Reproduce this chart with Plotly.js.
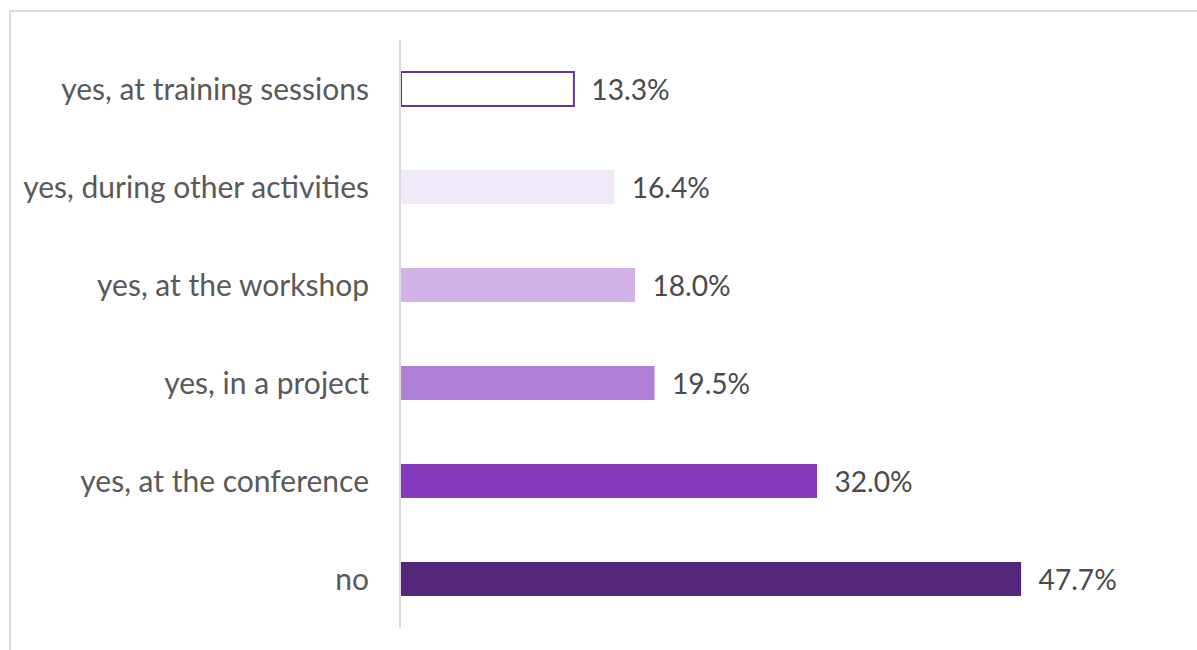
<!DOCTYPE html>
<html>
<head>
<meta charset="utf-8">
<script src="https://cdn.plot.ly/plotly-3.0.1.min.js"></script>
<style>
html,body{margin:0;padding:0;background:#fff;overflow:hidden;}
#chart{position:absolute;left:0;top:0;width:1197px;height:650px;}
#frame{position:absolute;left:9px;top:10px;width:1200px;height:660px;border:2px solid #d9d9d9;box-sizing:border-box;pointer-events:none;}
</style>
</head>
<body>
<div id="chart"></div>
<div id="frame"></div>
<script>
const categories = ["no", "yes, at the conference", "yes, in a project", "yes, at the workshop", "yes, during other activities", "yes, at training sessions"];
const values = [47.7, 32.0, 19.5, 18.0, 16.4, 13.3];
const fillColors = ["#56267a", "#8739bd", "#b07fd8", "#d3b2e9", "#f1e9f8", "#ffffff"];
const lineColors = ["#56267a", "#8739bd", "#b07fd8", "#d3b2e9", "#f1e9f8", "#6a3496"];
const lineWidths = [0, 0, 0, 0, 0, 2];

const trace = {
  type: "bar",
  orientation: "h",
  y: categories,
  x: values,
  width: 0.345,
  marker: {color: fillColors, line: {color: lineColors, width: lineWidths}},
  texttemplate: "  %{x:.1f}%",
  textposition: "outside",
  cliponaxis: false,
  textfont: {family: "Lato, 'Open Sans', sans-serif", size: 30, color: "#4a4a4a"},
  hoverinfo: "none"
};

const layout = {
  width: 1197, height: 650,
  margin: {l: 401, r: 16, t: 40, b: 22},
  paper_bgcolor: "rgba(0,0,0,0)",
  plot_bgcolor: "rgba(0,0,0,0)",
  showlegend: false,
  bargap: 0.655,
  xaxis: {range: [0, 60], showticklabels: false, showgrid: false, zeroline: false, showline: false, fixedrange: true},
  yaxis: {
    type: "category",
    showline: true, linecolor: "#d9d9d9", linewidth: 2,
    showgrid: false, zeroline: false, ticks: "",
    ticklabelstandoff: 24,
    tickfont: {family: "Lato, 'Open Sans', sans-serif", size: 30, color: "#595959"},
    fixedrange: true
  },
  font: {family: "Lato, 'Open Sans', sans-serif", color: "#595959"}
};

Plotly.newPlot("chart", [trace], layout, {displayModeBar: false, staticPlot: true});
</script>
</body>
</html>
